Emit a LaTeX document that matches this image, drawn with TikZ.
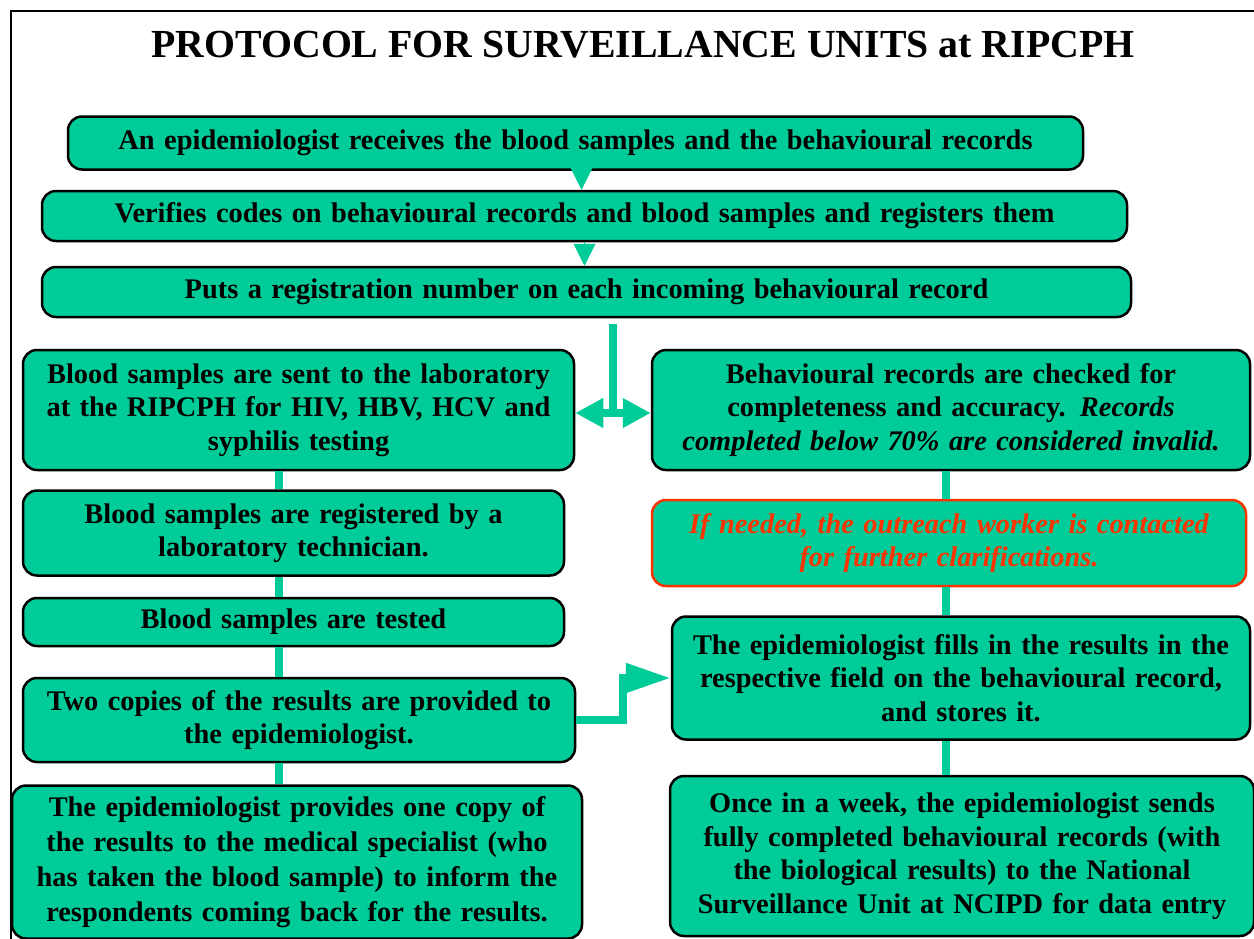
\documentclass[tikz,border=0pt]{standalone}
\usepackage{fontspec}
\setmainfont{Liberation Serif}
\usetikzlibrary{arrows.meta}
\definecolor{boxgreen}{RGB}{0,204,153}
\definecolor{notered}{RGB}{255,51,0}

\begin{document}
\begin{tikzpicture}[
        x=1pt, y=-1pt,
        every node/.style={align=center, inner xsep=10pt, inner ysep=0pt, font=\fontsize{28.4}{33.5}\selectfont\bfseries},
        process/.style={rectangle, draw, line width=2.5pt, rounded corners=14pt, fill=boxgreen},
        note/.style={process, draw=notered, text=notered, font=\fontsize{28.4}{33.5}\selectfont\bfseries\itshape},
        flow/.style={draw=boxgreen, line width=8pt},
        head/.style={draw=boxgreen, line width=1pt, -{Triangle[length=22pt, width=22pt]}}
    ]
    \useasboundingbox (0,0) rectangle (1254,938);
    \draw[line width=2pt] (11,950) -- (11,11) -- (1265,11);

    % Title
    \node[font=\fontsize{39.8}{44}\selectfont\bfseries] (title) at (643,45) {PROTOCOL FOR SURVEILLANCE UNITS at RIPCPH};

    % Main flow
    \node[process, text width=995pt, minimum height=53pt] (receive) at (575.5,143) {An epidemiologist receives the blood samples and the behavioural records};
    \node[process, text width=1065pt, minimum height=50pt] (verify) at (584.5,216) {Verifies codes on behavioural records and blood samples and registers them};
    \node[process, text width=1069pt, minimum height=50pt] (register) at (586.5,292) {Puts a registration number on each incoming behavioural record};

    % Laboratory branch
    \node[process, text width=531pt, minimum height=120pt] (lab) at (298.5,410) {Blood samples are sent to the laboratory\\at the RIPCPH for HIV, HBV, HCV and\\syphilis testing};
    \node[process, text width=521pt, minimum height=85pt] (labreg) at (293.5,533) {Blood samples are registered by a\\laboratory technician.};
    \node[process, text width=521pt, minimum height=48pt] (tested) at (293.5,622) {Blood samples are tested};
    \node[process, text width=532pt, minimum height=84pt] (copies) at (299,720) {Two copies of the results are provided to\\the epidemiologist.};
    \node[process, text width=550pt, minimum height=153pt, font=\fontsize{28.4}{35}\selectfont\bfseries] (inform) at (297,862) {The epidemiologist provides one copy of\\the results to the medical specialist (who\\has taken the blood sample) to inform the\\respondents coming back for the results.};

    % Records branch
    \node[process, text width=578pt, minimum height=120pt] (check) at (951,410) {Behavioural records are checked for\\completeness and accuracy. \textit{Records}\\\textit{completed below 70\% are considered invalid.}};
    \node[note, text width=574pt, minimum height=86pt] (contact) at (949,543) {If needed, the outreach worker is contacted\\for further clarifications.};
    \node[process, text width=558pt, minimum height=123pt] (fillin) at (961,678) {The epidemiologist fills in the results in the\\respective field on the behavioural record,\\and stores it.};
    \node[process, text width=564pt, minimum height=160pt] (send) at (962,856) {Once in a week, the epidemiologist sends\\fully completed behavioural records (with\\the biological results) to the National\\Surveillance Unit at NCIPD for data entry};

    \coordinate (lcol) at (279,0);
    \coordinate (rcol) at (946,0);
    \coordinate (splittop) at (613,324);
    \coordinate (split) at (613,413);

    % Arrows
    \draw[head] ([xshift=6pt]receive.south) -- ([xshift=6pt]receive.south |- verify.north);
    \draw[head] (verify.south) -- (verify.south |- register.north);
    \draw[flow] (splittop) -- (split);
    \draw[flow, {Triangle[length=28pt, width=28pt]}-{Triangle[length=28pt, width=28pt]}] (lab.east |- split) -- (check.west |- split);
    \draw[flow] (lab.south -| lcol) -- (labreg.north -| lcol);
    \draw[flow] (labreg.south -| lcol) -- (tested.north -| lcol);
    \draw[flow] (tested.south -| lcol) -- (copies.north -| lcol);
    \draw[flow] (copies.south -| lcol) -- (inform.north -| lcol);
    \draw[flow] (check.south -| rcol) -- (contact.north -| rcol);
    \draw[flow] (contact.south -| rcol) -- (fillin.north -| rcol);
    \draw[flow] (fillin.south -| rcol) -- (send.north -| rcol);
    \draw[flow, -{Triangle[length=45pt, width=28pt]}] (copies.east) -| ([xshift=-48pt]fillin.west) -- (fillin.west);

\end{tikzpicture}
\end{document}
